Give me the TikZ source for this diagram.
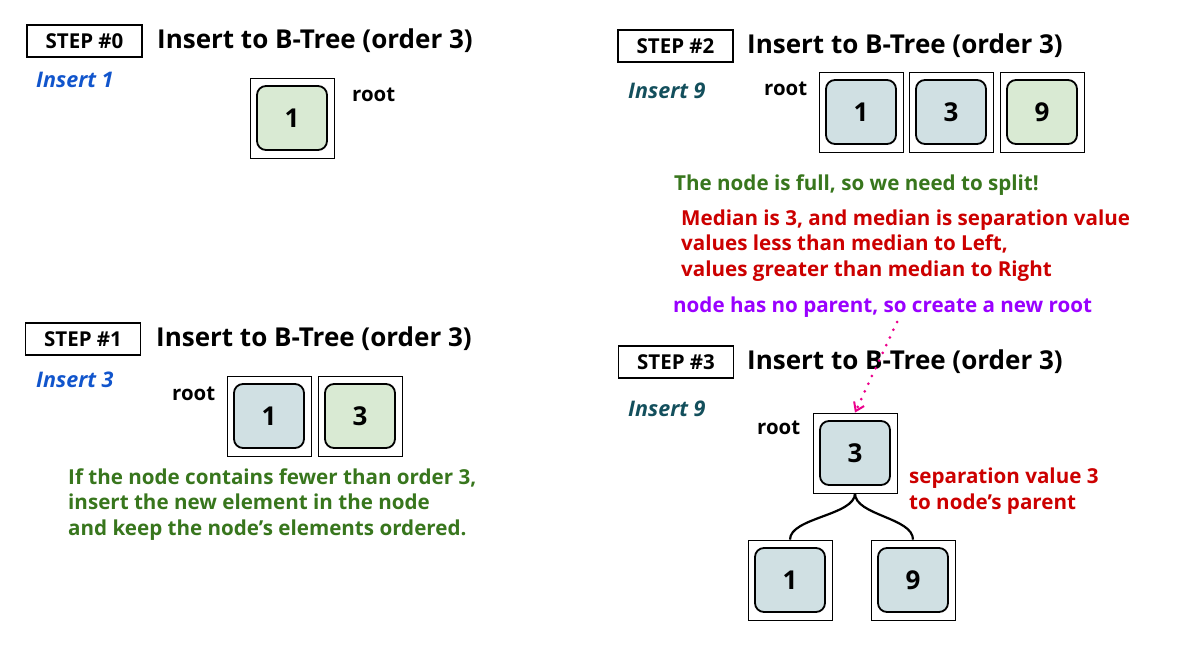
\documentclass[tikz,border=0pt]{standalone}
\usepackage{fontspec}
\setmainfont{Open Sans}
\usetikzlibrary{arrows.meta}
\definecolor{ngreen}{HTML}{D9EAD3}
\definecolor{nblue}{HTML}{D0E0E3}
\definecolor{tgreen}{HTML}{38761D}
\definecolor{tred}{HTML}{CC0000}
\definecolor{tpurple}{HTML}{9900FF}
\definecolor{tblue}{HTML}{1155CC}
\definecolor{tteal}{HTML}{134F5C}
\tikzset{
  stepbox/.style={draw, line width=1.5pt, minimum width=115pt, minimum height=32pt, inner sep=0pt, font=\fontsize{20.5}{24}\selectfont\bfseries},
  title/.style={anchor=base west, inner sep=0pt, font=\fontsize{26}{30}\selectfont\bfseries},
  ins/.style={anchor=base west, inner sep=0pt, font=\fontsize{21.5}{25}\selectfont\bfseries\itshape},
  rootlbl/.style={anchor=base west, inner sep=0pt, font=\fontsize{20.4}{24}\selectfont\bfseries},
  outer/.style={draw, line width=0.8pt, minimum width=84pt, minimum height=80pt, inner sep=0pt},
  key/.style={draw, line width=1.8pt, rounded corners=9pt, minimum width=70pt, minimum height=64pt, inner sep=0pt, font=\fontsize{26}{30}\selectfont\bfseries},
  kold/.style={key, fill=nblue},
  knew/.style={key, fill=ngreen},
  note/.style={anchor=base west, inner sep=0pt, align=left, font=\fontsize{20.6}{25.3}\selectfont\bfseries},
  link/.style={line width=2.2pt},
  hint/.style={magenta, line width=3pt, line cap=round, dash pattern=on 0pt off 8.5pt, -{Straight Barb[length=8pt,width=11pt,line width=2pt,line cap=butt]}}
}
\begin{document}
\begin{tikzpicture}[x=1pt,y=-1pt]
\useasboundingbox (0,0) rectangle (1189,659);
% STEP 0
\node[stepbox] (s0) at (84.5,41) {STEP \#0};
\node[title] (t0) at (157,48) {Insert to B-Tree (order 3)};
\node[ins, text=tblue] (i0) at (36,87) {Insert 1};
\node[outer] (o0) at (292,118) {};
\node[knew] (k0) at (o0) {1};
\node[rootlbl] (r0) at (352,101) {root};
% STEP 1
\node[stepbox] (s1) at (83,339) {STEP \#1};
\node[title] (t1) at (156,346) {Insert to B-Tree (order 3)};
\node[ins, text=tblue] (i1) at (36,387) {Insert 3};
\node[rootlbl] (r1) at (172,400) {root};
\node[outer] (o1a) at (269,416) {};
\node[kold] (k1a) at (o1a) {1};
\node[outer] (o1b) at (360,416) {};
\node[knew] (k1b) at (o1b) {3};
\node[note, text=tgreen] (n1) at (68,535) {If the node contains fewer than order 3,\\insert the new element in the node\\and keep the node’s elements ordered.};
% STEP 2
\node[stepbox] (s2) at (675.5,46) {STEP \#2};
\node[title] (t2) at (747,53) {Insert to B-Tree (order 3)};
\node[ins, text=tteal] (i2) at (628,98) {Insert 9};
\node[rootlbl] (r2) at (764,95) {root};
\node[outer] (o2a) at (861,112) {};
\node[kold] (k2a) at (o2a) {1};
\node[outer] (o2b) at (951,112) {};
\node[kold] (k2b) at (o2b) {3};
\node[outer] (o2c) at (1042,112) {};
\node[knew] (k2c) at (o2c) {9};
\node[note, text=tgreen] (n2a) at (674,190) {The node is full, so we need to split!};
\node[note, text=tred] (n2b) at (681,276) {Median is 3, and median is separation value\\values less than median to Left,\\values greater than median to Right};
\node[note, text=tpurple] (n2c) at (673,312) {node has no parent, so create a new root};
% STEP 3
\node[stepbox] (s3) at (676,362) {STEP \#3};
\node[title] (t3) at (747,369) {Insert to B-Tree (order 3)};
\node[ins, text=tteal] (i3) at (628,416) {Insert 9};
\node[rootlbl] (r3) at (757,434) {root};
\node[outer] (o3) at (855,453) {};
\node[kold] (k3) at (o3) {3};
\node[outer] (o3l) at (790,580) {};
\node[kold] (k3l) at (o3l) {1};
\node[outer] (o3r) at (913,580) {};
\node[kold] (k3r) at (o3r) {9};
\node[note, text=tred] (n3) at (909,509) {separation value 3\\to node’s parent};
\coordinate (hs) at (897,322);
\draw[hint] (hs) -- (o3.north);
\draw[link] (o3.south) .. controls +(0,22) and +(0,-22) .. (o3l.north);
\draw[link] (o3.south) .. controls +(0,22) and +(0,-22) .. (o3r.north);
\end{tikzpicture}
\end{document}
